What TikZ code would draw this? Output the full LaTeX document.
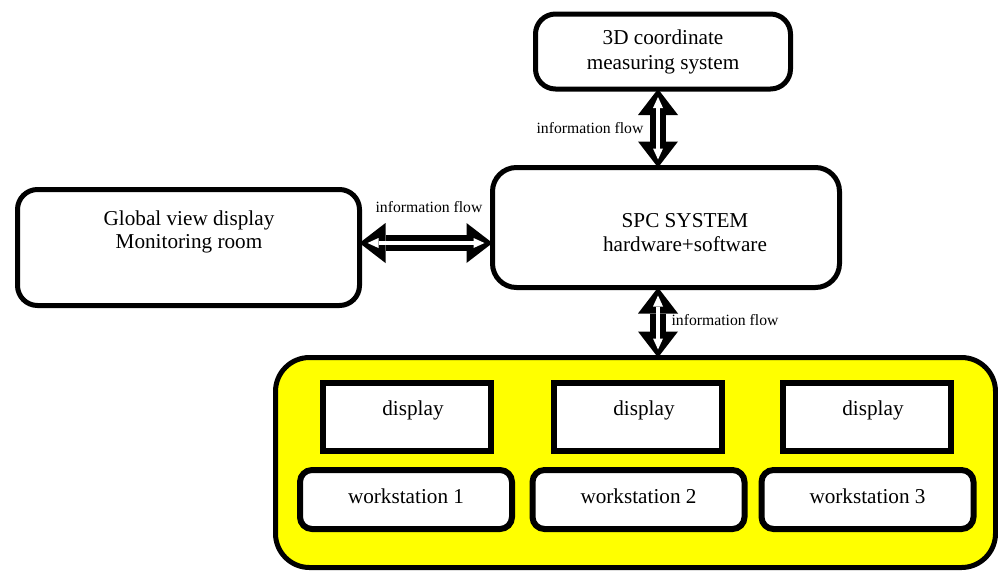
\documentclass[tikz,border=0pt]{standalone}
\usepackage{fontspec}
\setmainfont{Liberation Serif}
\usetikzlibrary{arrows.meta,calc}
\definecolor{ylw}{RGB}{255,255,0}
\begin{document}
\begin{tikzpicture}[x=1pt,y=-1pt,
  mainfont/.style={font=\fontsize{21.2}{#1}\selectfont},
  rbox/.style={draw, line width=5pt, fill=white, rounded corners=#1, inner sep=0pt, outer sep=0pt},
  dispbox/.style={draw, line width=6pt, fill=white, inner sep=0pt, outer sep=0pt,
    minimum width=168pt, minimum height=68pt, mainfont=24, text height=14.5pt, text depth=17.5pt},
  wsbox/.style={draw, line width=6pt, fill=white, rounded corners=12pt, inner sep=0pt, outer sep=0pt,
    minimum width=212pt, minimum height=59pt, mainfont=24, text height=14.5pt, text depth=7.5pt},
  txt/.style={align=center, inner sep=0pt},
  flowlabel/.style={font=\fontsize{15.7}{18}\selectfont, anchor=base, inner sep=0pt},
  blkarr/.style={line width=16pt,
    {Triangle[length=26pt,width=40pt,line width=0pt]}-{Triangle[length=26pt,width=40pt,line width=0pt]}},
  whtarr/.style={white, line width=4.5pt, shorten >=8pt, shorten <=8pt,
    {Triangle[length=11pt,width=10pt,line width=0pt]}-{Triangle[length=11pt,width=10pt,line width=0pt]}}
]
\useasboundingbox (0,0) rectangle (998,574);

% boxes
\node[rbox=20pt, minimum width=255pt, minimum height=75pt, mainfont=25, align=center]
  (top) at (663,51.5) {3D coordinate\\measuring system};
\node[rbox=24pt, minimum width=347pt, minimum height=120pt] (spc) at (666,227.5) {};
\node[txt, mainfont=24] (spctext) at (685,233) {SPC SYSTEM\\hardware+software};
\node[rbox=20pt, minimum width=342pt, minimum height=116pt] (glob) at (188.5,247.5) {};
\node[txt, mainfont=23] (globtext) at (189,231.5) {Global view display\\Monitoring room};

\node[draw, line width=5pt, fill=ylw, rounded corners=34pt, inner sep=0pt, outer sep=0pt,
  minimum width=720pt, minimum height=210pt] (ws) at (635.5,462.5) {};

\node[dispbox] (d1) at (407,416.5) {\hspace*{12pt}display};
\node[dispbox] (d2) at (638,416.5) {\hspace*{12pt}display};
\node[dispbox] (d3) at (867,416.5) {\hspace*{12pt}display};
\node[wsbox] (w1) at (406,499.5) {workstation 1};
\node[wsbox] (w2) at (638.5,499.5) {workstation 2};
\node[wsbox] (w3) at (867.5,499.5) {workstation 3};

% arrows
\coordinate (ax) at (658,0);
\coordinate (ay) at (0,243);
\draw[blkarr] (ax |- top.south) -- (ax |- spc.north);
\draw[whtarr] (ax |- top.south) -- (ax |- spc.north);
\draw[blkarr] (glob.east |- ay) -- (spc.west |- ay);
\draw[whtarr] (glob.east |- ay) -- (spc.west |- ay);
\draw[blkarr] (ax |- spc.south) -- (ax |- ws.north);
\draw[whtarr] (ax |- spc.south) -- (ax |- ws.north);

% labels
\node[flowlabel] (l1) at (590,133) {information flow};
\node[flowlabel] (l2) at (429,212) {information flow};
\node[flowlabel] (l3) at (725,325) {information flow};
\end{tikzpicture}
\end{document}
